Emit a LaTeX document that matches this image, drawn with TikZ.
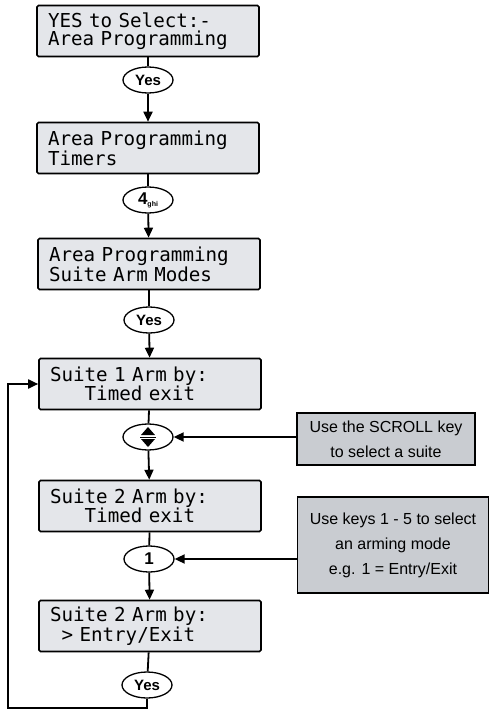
\documentclass[tikz,border=0pt]{standalone}
\usepackage{fontspec}
\setmainfont{Liberation Sans}
\newfontfamily\lcdfont{DejaVu Sans Mono}
\usetikzlibrary{arrows.meta,shapes.geometric}
\definecolor{lcdgrey}{HTML}{E4E6EA}
\definecolor{notegrey}{HTML}{C9CCD1}
\newcommand{\lcdgap}[1]{\hphantom{#1}}

\begin{document}
\begin{tikzpicture}[x=1pt, y=-1pt,
  lcd/.style={draw, line width=1.6pt, rounded corners=1.5pt, fill=lcdgrey,
    minimum width=222pt, minimum height=51pt, text width=200pt, align=left,
    inner sep=0pt, font=\lcdfont\fontsize{19.2}{17.5}\selectfont},
  key/.style={draw, ellipse, line width=1.3pt, minimum width=50pt,
    minimum height=26pt, inner sep=0pt, font=\fontsize{15}{15}\selectfont\bfseries},
  note/.style={draw, line width=1.6pt, fill=notegrey, align=center,
    inner sep=0pt, font=\fontsize{16}{25}\selectfont},
  link/.style={line width=1.8pt},
  flow/.style={link, -{Triangle[length=10pt,width=9pt]}}]
\useasboundingbox (0,0) rectangle (490,711);

% displays down the middle
\node[lcd] (sel)    at (148,31)  {YES to Select:-\\Area Programming};
\node[key] (yesa)   at (148,80)  {Yes};
\node[lcd] (timers) at (148,148) {Area Programming\\Timers};
\node[key] (four)   at (148,200) {\fontsize{17}{17}\selectfont 4\raisebox{-2pt}{\fontsize{7}{7}\selectfont ghi}};
\node[lcd] (modes)  at (149,264) {Area Programming\\Suite Arm Modes};
\node[key] (yesb)   at (149,320) {Yes};
\node[lcd] (suiteA) at (150,384) {Suite 1 Arm by:\\\lcdgap{XXX}Timed exit};
\node[key] (scroll) at (148,437) {};
\node[lcd] (suiteB) at (150,506) {Suite 2 Arm by:\\\lcdgap{XXX}Timed exit};
\node[key] (one)    at (149,559) {\fontsize{17}{17}\selectfont 1};
\node[lcd] (suiteC) at (150,626) {Suite 2 Arm by:\\\lcdgap{X}> Entry/Exit};
\node[key] (yesc)   at (147,685) {Yes};

% scroll key symbol
\begin{scope}[shift={(scroll)}]
  \fill (0,-10) -- (7,-2) -- (-7,-2) -- cycle;
  \fill (0,10) -- (7,2) -- (-7,2) -- cycle;
  \draw[line width=0.6pt] (-8,0) -- (8,0);
\end{scope}

% side notes
\node[note, minimum width=178pt, minimum height=52pt] (hintA) at (386,439)
  {Use the SCROLL key\\to select a suite};
\node[note, minimum width=191pt, minimum height=96pt] (hintB) at (393,545)
  {Use keys 1 - 5 to select\\an arming mode\\e.g. 1 = Entry/Exit};

% connectors
\draw[link] (sel) -- (yesa);
\draw[flow] (yesa) -- (timers);
\draw[link] (timers) -- (four);
\draw[flow] (four) -- (modes);
\draw[link] (modes) -- (yesb);
\draw[flow] (yesb) -- (suiteA);
\draw[link] (suiteA) -- (scroll);
\draw[flow] (scroll) -- (suiteB);
\draw[link] (suiteB) -- (one);
\draw[flow] (one) -- (suiteC);
\draw[link] (suiteC) -- (yesc);
\draw[flow] (hintA.west |- scroll) -- (scroll);
\draw[flow] (hintB.west |- one) -- (one);

% loop back to the first suite
\coordinate (corner) at (8,708);
\draw[flow] (yesc.south) -- (yesc.south |- corner) -- (corner)
  -- (corner |- suiteA.west) -- (suiteA.west);
\end{tikzpicture}
\end{document}
